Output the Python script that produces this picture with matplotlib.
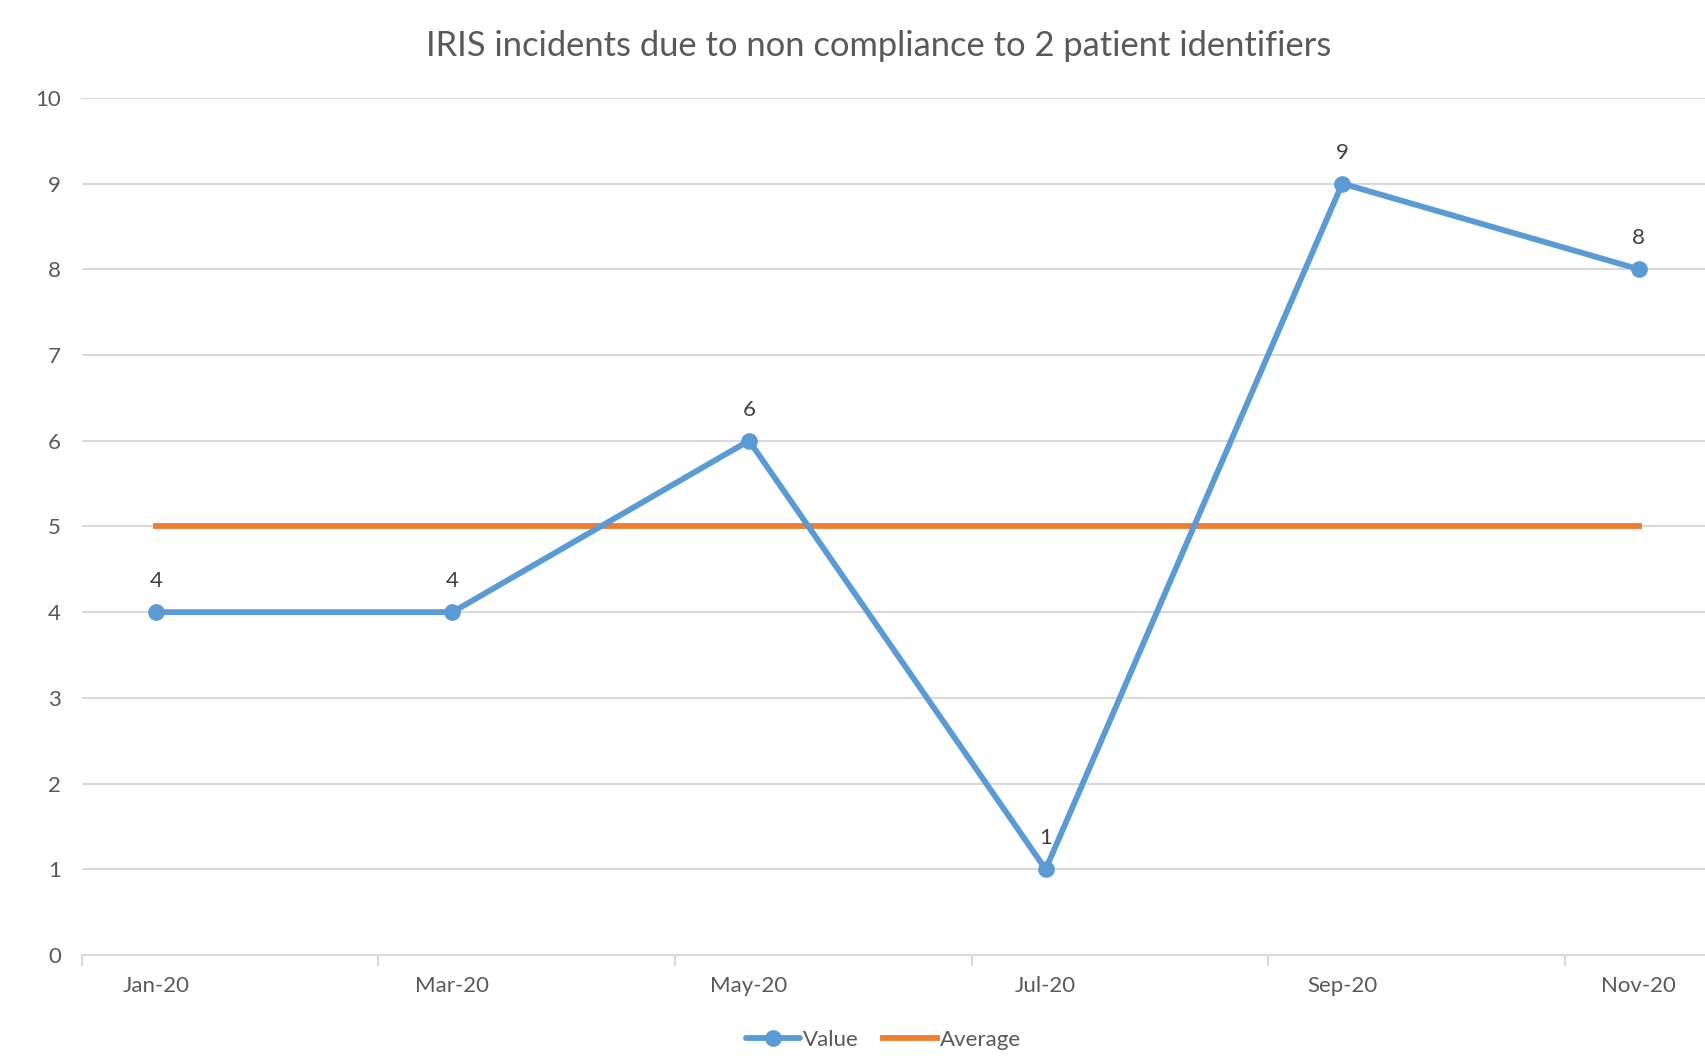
import matplotlib.pyplot as plt

# monthly slots Jan..Nov, data only every second month
months = ["Jan-20", "Feb-20", "Mar-20", "Apr-20", "May-20", "Jun-20",
          "Jul-20", "Aug-20", "Sep-20", "Oct-20", "Nov-20"]
point_months = ["Jan-20", "Mar-20", "May-20", "Jul-20", "Sep-20", "Nov-20"]
values = [4, 4, 6, 1, 9, 8]
average = [5, 5, 5, 5, 5, 5]

blue = "#5B9BD5"
orange = "#ED7D31"
text_col = "#595959"
grid_col = "#D9D9D9"

plt.rcParams["font.family"] = ["Lato", "DejaVu Sans"]

fig = plt.figure(figsize=(17.06, 10.63), dpi=100)
ax = fig.add_axes([0.0479, 0.1016, 0.9562, 0.8064])

x = [months.index(m) for m in point_months]

ax.plot(x, values, color=blue, linewidth=4.2, marker="o", markersize=11,
        solid_capstyle="round", label="Value", zorder=3)
ax.plot(x, average, color=orange, linewidth=4.2, label="Average", zorder=2)

for xi, v in zip(x, values):
    ax.annotate(str(v), (xi, v), xytext=(0, 15), textcoords="offset points",
                ha="center", va="bottom", fontsize=16, color="#404040")

ax.set_xlim(-0.5, len(months) - 0.5)
ax.set_ylim(0, 10)
ax.set_yticks(range(0, 11))

# tick marks between month pairs, labels on the data months
ax.set_xticks([i - 0.5 for i in x])
ax.set_xticklabels([])
ax.set_xticks(x, minor=True)
ax.set_xticklabels(point_months, minor=True)
ax.tick_params(axis="x", which="major", length=8, color=grid_col, width=1.5)
ax.tick_params(axis="x", which="minor", length=0, pad=15, labelsize=16,
               labelcolor=text_col)
ax.tick_params(axis="y", length=0, pad=15, labelsize=16, labelcolor=text_col)

ax.yaxis.grid(True, color=grid_col, linewidth=1.5)
ax.set_axisbelow(True)
for s in ["top", "right", "left"]:
    ax.spines[s].set_visible(False)
ax.spines["bottom"].set_color(grid_col)
ax.spines["bottom"].set_linewidth(1.5)

fig.text(0.515, 0.957, "IRIS incidents due to non compliance to 2 patient identifiers",
         ha="center", va="center", fontsize=24.8, color=text_col)

fig.legend(loc="center", bbox_to_anchor=(0.518, 0.022), ncol=2, frameon=False,
           fontsize=16, labelcolor=text_col, handlelength=2.4,
           handletextpad=0.15, columnspacing=1.1)

fig.savefig("out.png", dpi=100)
